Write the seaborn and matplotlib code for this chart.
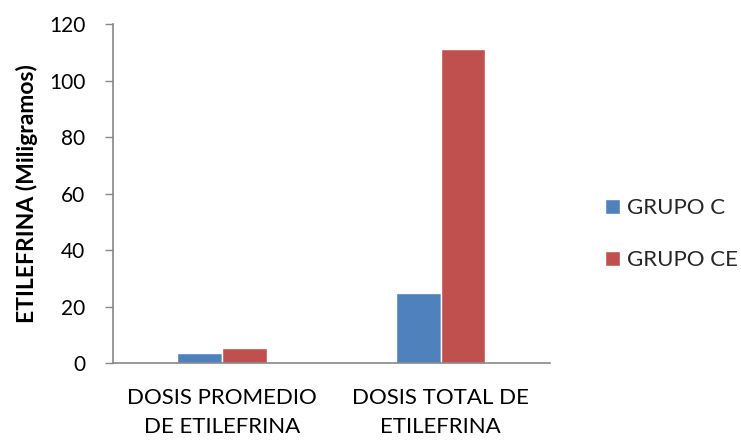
import matplotlib
matplotlib.use("Agg")
import matplotlib.pyplot as plt
import seaborn as sns
import pandas as pd

categories = ["DOSIS PROMEDIO\nDE ETILEFRINA", "DOSIS TOTAL DE\nETILEFRINA"]
grupo_c = [3.4, 24.8]
grupo_ce = [5.3, 111.2]
series_names = ["GRUPO C", "GRUPO CE"]
colors = ["#4F81BD", "#C0504D"]
y_ticks = [0, 20, 40, 60, 80, 100, 120]

df = pd.DataFrame({
    "cat": categories * 2,
    "val": grupo_c + grupo_ce,
    "grupo": [series_names[0]] * 2 + [series_names[1]] * 2,
})

sns.set_theme(style="white")
plt.rcParams["font.family"] = ["Lato", "DejaVu Sans"]

fig = plt.figure(figsize=(7.41, 4.4), dpi=100)
ax = fig.add_axes([0.1525, 0.175, 0.5895, 0.77])
sns.barplot(data=df, x="cat", y="val", hue="grupo", palette=colors,
            width=0.41, saturation=1, ax=ax, errorbar=None)

ax.set_ylim(0, 120)
ax.set_xlim(-0.5, 1.5)
ax.set_yticks(y_ticks)
ax.set_yticklabels([str(t) for t in y_ticks], fontsize=15, color="black")
ax.tick_params(axis="x", labelsize=16, colors="black", length=0, pad=18)
ax.tick_params(axis="y", length=6, width=1, color="#888888", direction="out", left=True, pad=14)
for lab in ax.get_xticklabels():
    lab.set_linespacing(1.58)
ax.set_xlabel("")
ax.set_ylabel("ETILEFRINA (Miligramos)", fontsize=16.5, fontweight="bold", color="black", labelpad=8)
for s in ["top", "right"]:
    ax.spines[s].set_visible(False)
for s in ["left", "bottom"]:
    ax.spines[s].set_color("#888888")
    ax.spines[s].set_linewidth(1.2)

leg = ax.legend(loc="center left", bbox_to_anchor=(1.08, 0.38), frameon=False,
                fontsize=16, handlelength=0.7, handleheight=0.7,
                labelspacing=1.45, handletextpad=0.3)
fig.savefig("out.png", dpi=100)
